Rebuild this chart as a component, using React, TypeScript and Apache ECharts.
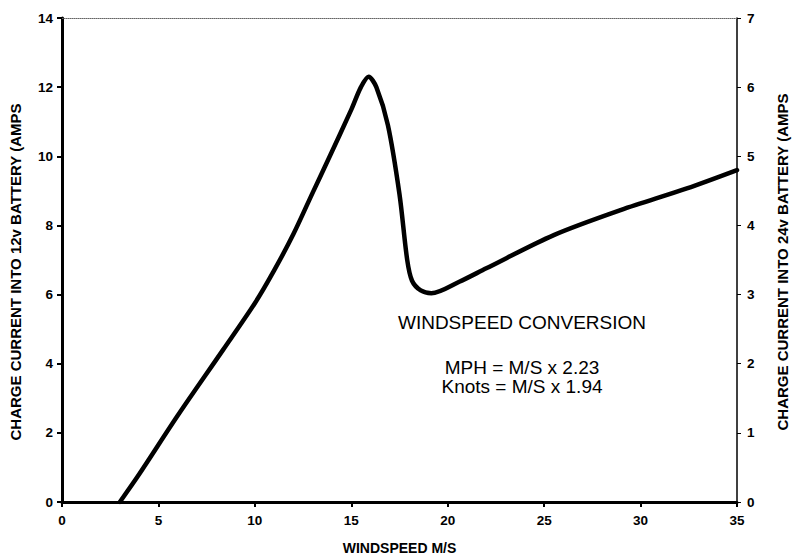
import React, { useEffect, useRef } from "react";
import * as echarts from "echarts";

const windSpeed = [3, 4, 6, 8.35, 10, 11.0, 12.0, 13.0, 13.8, 15.0, 15.5, 15.9, 16.3, 16.9, 17.5, 17.9, 18.15, 18.6, 19.15, 20.6, 22, 25.5, 29, 32.4, 35];
const current12v = [0, 0.8, 2.5, 4.4, 5.75, 6.7, 7.75, 8.95, 9.9, 11.35, 12.0, 12.3, 12.0, 10.9, 8.9, 7.0, 6.4, 6.12, 6.04, 6.37, 6.76, 7.72, 8.45, 9.07, 9.6];

const xTicks = { min: 0, max: 35, interval: 5 };
const yLeftTicks = { min: 0, max: 14, interval: 2 };
const yRightTicks = { min: 0, max: 7, interval: 1 };

const xName = "WINDSPEED M/S";
const yLeftName = "CHARGE CURRENT INTO 12v BATTERY (AMPS";
const yRightName = "CHARGE CURRENT INTO 24v BATTERY (AMPS";
const notes = ["WINDSPEED CONVERSION", "MPH = M/S x 2.23", "Knots = M/S x 1.94"];

const FONT = "'Liberation Sans', Arial, sans-serif";

export default function App() {
  const ref = useRef<HTMLDivElement>(null);
  useEffect(() => {
    if (!ref.current) return;
    const chart = echarts.init(ref.current, undefined, { renderer: "svg" });
    const tickLabel = { color: "#000", fontFamily: FONT, fontWeight: "bold" as const, fontSize: 13.5 };
    chart.setOption({
      animation: false,
      backgroundColor: "#fff",
      grid: { left: 62, right: 58, top: 18, bottom: 57, containLabel: false, outerBoundsMode: "none" },
      xAxis: [
        {
          type: "value",
          ...xTicks,
          name: xName,
          nameLocation: "middle",
          nameGap: 39,
          nameTextStyle: { color: "#000", fontFamily: FONT, fontWeight: "bold", fontSize: 14 },
          axisLine: { show: true, onZero: false, lineStyle: { color: "#000", width: 3 } },
          axisTick: { show: true, inside: false, length: 5, lineStyle: { color: "#000", width: 2 } },
          axisLabel: { ...tickLabel, margin: 11 },
          splitLine: { show: false },
        },
        {
          type: "value",
          position: "top",
          ...xTicks,
          axisLine: { show: true, onZero: false, lineStyle: { color: "#666", width: 1, type: "dotted" } },
          axisTick: { show: false },
          axisLabel: { show: false },
          splitLine: { show: false },
        },
      ],
      yAxis: [
        {
          type: "value",
          ...yLeftTicks,
          axisLine: { show: true, onZero: false, lineStyle: { color: "#000", width: 3 } },
          axisTick: { show: true, inside: false, length: 5, lineStyle: { color: "#000", width: 2 } },
          axisLabel: { ...tickLabel, margin: 9 },
          splitLine: { show: false },
        },
        {
          type: "value",
          position: "right",
          ...yRightTicks,
          axisLine: { show: true, onZero: false, lineStyle: { color: "#000", width: 1.5 } },
          axisTick: { show: true, inside: false, length: 4, lineStyle: { color: "#000", width: 1 } },
          axisLabel: { ...tickLabel, margin: 10 },
          splitLine: { show: false },
        },
      ],
      graphic: [
        {
          type: "text",
          x: 15,
          y: 272,
          rotation: Math.PI / 2,
          style: { text: yLeftName, fill: "#000", font: `bold 15px ${FONT}`, textAlign: "center", textVerticalAlign: "middle", verticalAlign: "middle" },
        },
        {
          type: "text",
          x: 782,
          y: 262,
          rotation: Math.PI / 2,
          style: { text: yRightName, fill: "#000", font: `bold 15px ${FONT}`, textAlign: "center", textVerticalAlign: "middle", verticalAlign: "middle" },
        },
        {
          type: "text",
          x: 522,
          y: 322,
          style: { text: notes[0], fill: "#000", font: `19px ${FONT}`, textAlign: "center", verticalAlign: "middle", textVerticalAlign: "middle" },
        },
        {
          type: "text",
          x: 522,
          y: 367.5,
          style: { text: notes[1], fill: "#000", font: `19px ${FONT}`, textAlign: "center", verticalAlign: "middle", textVerticalAlign: "middle" },
        },
        {
          type: "text",
          x: 522,
          y: 386.5,
          style: { text: notes[2], fill: "#000", font: `19px ${FONT}`, textAlign: "center", verticalAlign: "middle", textVerticalAlign: "middle" },
        },
      ],
      series: [
        {
          type: "line",
          xAxisIndex: 0,
          yAxisIndex: 0,
          data: windSpeed.map((x, i) => [x, current12v[i]]),
          showSymbol: false,
          smooth: 0.3,
          lineStyle: { color: "#000", width: 4.5, cap: "round", join: "round" },
          z: 5,
        },
      ],
    });
    return () => chart.dispose();
  }, []);
  return (
    <div
      ref={ref}
      style={{ position: "fixed", left: 0, top: 0, width: 795, height: 559, background: "#fff" }}
    />
  );
}
